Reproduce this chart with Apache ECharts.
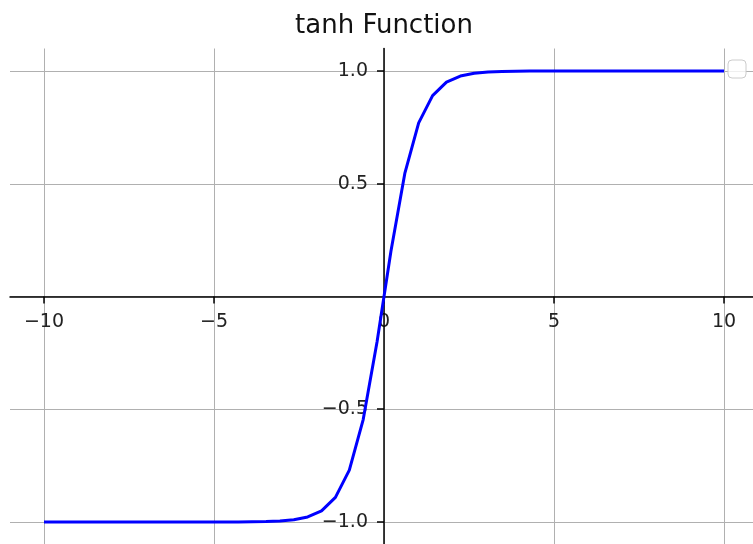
<!DOCTYPE html>
<html>
<head>
<meta charset="utf-8">
<script src="https://cdn.jsdelivr.net/npm/echarts@6/dist/echarts.min.js"></script>
<style>
  html, body { margin: 0; padding: 0; background: #fff; }
  #chart { width: 753px; height: 544px; }
</style>
</head>
<body>
<div id="chart"></div>
<script>
// Sample points of the hyperbolic tangent curve
const xs = [-10, -9.592, -9.184, -8.776, -8.367, -7.959, -7.551, -7.143, -6.735, -6.327,
  -5.918, -5.510, -5.102, -4.694, -4.286, -3.878, -3.469, -3.061, -2.653, -2.245,
  -1.837, -1.429, -1.020, -0.612, -0.204, 0.204, 0.612, 1.020, 1.429, 1.837,
  2.245, 2.653, 3.061, 3.469, 3.878, 4.286, 4.694, 5.102, 5.510, 5.918,
  6.327, 6.735, 7.143, 7.551, 7.959, 8.367, 8.776, 9.184, 9.592, 10];
const ys = [-1.000, -1.000, -1.000, -1.000, -1.000, -1.000, -1.000, -1.000, -1.000, -1.000,
  -1.000, -1.000, -1.000, -1.000, -1.000, -0.999, -0.998, -0.996, -0.990, -0.978,
  -0.951, -0.891, -0.770, -0.546, -0.201, 0.201, 0.546, 0.770, 0.891, 0.951,
  0.978, 0.990, 0.996, 0.998, 0.999, 1.000, 1.000, 1.000, 1.000, 1.000,
  1.000, 1.000, 1.000, 1.000, 1.000, 1.000, 1.000, 1.000, 1.000, 1.000];

// Tick positions and labels
const xTicks = [-10, -5, 0, 5, 10];
const yTicks = [-1, -0.5, 0.5, 1];
const titleText = 'tanh Function';

const FONT = 'DejaVu Sans';
const minusFmt = (s) => s.replace('-', '\u2212');

// Plot box: x in [-11, 11], y in [-1.1, 1.1]
const X_RANGE = [-11, 11];
const Y_RANGE = [-1.1, 1.1];
const GRID = { left: 10, top: 48.5, width: 748, height: 496 };
// Label axes are shifted from the box edge to the origin (centre of the box)
const X_AXIS_SHIFT = -GRID.height / 2;
const Y_AXIS_SHIFT = -GRID.width / 2;

const chart = echarts.init(document.getElementById('chart'), null, { renderer: 'canvas' });

const axisLineStyle = { color: '#000', width: 1.5 };
const tickLineStyle = { color: '#000', width: 1.5 };
const gridLineStyle = { color: '#b0b0b0', width: 1 };
const labelStyle = { fontFamily: FONT, fontSize: 19, color: '#222' };

chart.setOption({
  animation: false,
  backgroundColor: '#ffffff',
  title: {
    text: titleText,
    left: GRID.left + GRID.width / 2,
    top: 13,
    padding: 0,
    textAlign: 'center',
    textStyle: { fontFamily: FONT, fontSize: 26, fontWeight: 'normal', color: '#111' }
  },
  grid: {
    left: GRID.left, top: GRID.top, width: GRID.width, height: GRID.height,
    containLabel: false, outerBoundsMode: 'none'
  },
  xAxis: [{
    // spine through the origin, with ticks (drawn above the grid lines)
    type: 'value',
    position: 'bottom',
    z: 5,
    min: X_RANGE[0], max: X_RANGE[1],
    minInterval: 5, maxInterval: 5,
    axisLine: { show: true, onZero: true, lineStyle: axisLineStyle },
    axisTick: { show: true, inside: false, length: 7, customValues: xTicks, lineStyle: tickLineStyle },
    axisLabel: { show: false },
    splitLine: { show: false }
  }, {
    // tick labels beside the spine, plus the grid lines
    type: 'value',
    position: 'bottom',
    offset: X_AXIS_SHIFT,
    z: 0,
    min: X_RANGE[0], max: X_RANGE[1],
    minInterval: 5, maxInterval: 5,
    axisLine: { show: false, onZero: false },
    axisTick: { show: false },
    splitLine: { show: true, showMinLine: false, showMaxLine: false, lineStyle: gridLineStyle },
    axisLabel: Object.assign({
      customValues: xTicks,
      margin: 16,
      formatter: (v) => minusFmt(String(v))
    }, labelStyle)
  }],
  yAxis: [{
    type: 'value',
    position: 'left',
    z: 5,
    min: Y_RANGE[0], max: Y_RANGE[1],
    minInterval: 0.5, maxInterval: 0.5,
    axisLine: { show: true, onZero: true, lineStyle: axisLineStyle },
    axisTick: { show: true, inside: false, length: 7, customValues: yTicks, lineStyle: tickLineStyle },
    axisLabel: { show: false },
    splitLine: { show: false }
  }, {
    type: 'value',
    position: 'left',
    offset: Y_AXIS_SHIFT,
    z: 0,
    min: Y_RANGE[0], max: Y_RANGE[1],
    minInterval: 0.5, maxInterval: 0.5,
    axisLine: { show: false, onZero: false },
    axisTick: { show: false },
    splitLine: { show: true, showMinLine: false, showMaxLine: false, lineStyle: gridLineStyle },
    axisLabel: Object.assign({
      customValues: yTicks,
      margin: 16,
      formatter: (v) => minusFmt(v.toFixed(1))
    }, labelStyle)
  }],
  series: [{
    type: 'line',
    xAxisIndex: 0,
    yAxisIndex: 0,
    data: xs.map((x, i) => [x, ys[i]]),
    showSymbol: false,
    symbol: 'none',
    lineStyle: { color: '#0000ff', width: 3 },
    z: 6
  }],
  graphic: [{
    // empty legend frame in the upper right corner
    type: 'rect',
    shape: { x: 728, y: 60, width: 18, height: 18, r: 4 },
    style: { fill: 'rgba(255,255,255,0.8)', stroke: '#cccccc', lineWidth: 1 },
    z: 10
  }]
});
</script>
</body>
</html>
